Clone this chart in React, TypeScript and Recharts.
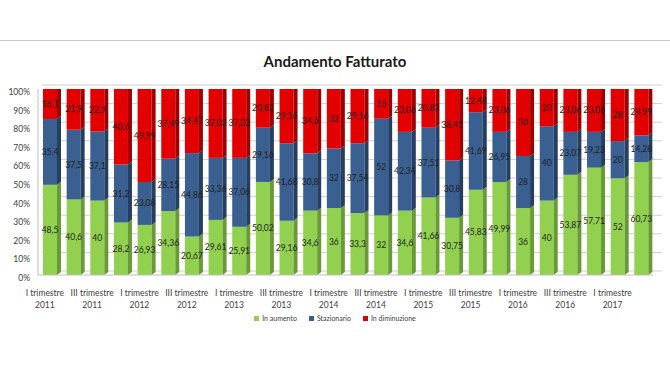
import React from 'react';
import { BarChart, Bar, XAxis, YAxis, CartesianGrid, LabelList, Legend, ReferenceLine } from 'recharts';

const categories = [
  'I trimestre 2011', 'II trimestre 2011', 'III trimestre 2011', 'IV trimestre 2011',
  'I trimestre 2012', 'II trimestre 2012', 'III trimestre 2012', 'IV trimestre 2012',
  'I trimestre 2013', 'II trimestre 2013', 'III trimestre 2013', 'IV trimestre 2013',
  'I trimestre 2014', 'II trimestre 2014', 'III trimestre 2014', 'IV trimestre 2014',
  'I trimestre 2015', 'II trimestre 2015', 'III trimestre 2015', 'IV trimestre 2015',
  'I trimestre 2016', 'II trimestre 2016', 'III trimestre 2016', 'IV trimestre 2016',
  'I trimestre 2017', 'II trimestre 2017',
];
const inAumento = [48.5, 40.6, 40, 28.2, 26.93, 34.36, 20.67, 29.61, 25.91, 50.02, 29.16, 34.6, 36, 33.3, 32, 34.6, 41.66, 30.75, 45.83, 49.99, 36, 40, 53.87, 57.71, 52, 60.73];
const stazionario = [35.4, 37.5, 37.1, 31.2, 23.08, 28.15, 44.86, 33.36, 37.06, 29.16, 41.68, 30.8, 32, 37.54, 52, 42.34, 37.51, 30.8, 41.69, 26.95, 28, 40, 23.07, 19.23, 20, 14.28];
const inDiminuzione = [16.1, 21.9, 22.9, 40.6, 49.99, 37.49, 34.47, 37.03, 37.03, 20.82, 29.16, 34.6, 32, 29.16, 16, 23.06, 20.83, 38.45, 12.48, 23.06, 36, 20, 23.06, 23.06, 28, 24.99];
const yTicks = [0, 10, 20, 30, 40, 50, 60, 70, 80, 90, 100];
const seriesNames = ['In aumento', 'Stazionario', 'In diminuzione'];

const data = categories.map((name, i) => ({
  name,
  a: inAumento[i],
  s: stazionario[i],
  d: inDiminuzione[i],
}));

const FONT = 'Lato, "Open Sans", sans-serif';
const D = 4;
const E = 3;

const make3D = (front: string, side: string, top?: string) => (props: any) => {
  const { x, y, width, height } = props;
  if (!height || height <= 0) return <g />;
  return (
    <g>
      <rect x={x} y={y} width={width} height={height} fill={front} />
      <polygon
        points={`${x + width},${y} ${x + width + D},${y - E} ${x + width + D},${y + height - E} ${x + width},${y + height}`}
        fill={side}
      />
      {top && (
        <polygon
          points={`${x},${y} ${x + D},${y - E} ${x + width + D},${y - E} ${x + width},${y}`}
          fill={top}
        />
      )}
    </g>
  );
};

const fmt = (v: any) => String(v).replace('.', ',');

const XTick = (props: any) => {
  const { x, y, payload } = props;
  const s: string = payload.value;
  const idx = s.lastIndexOf(' ');
  const l1 = s.slice(0, idx);
  const l2 = s.slice(idx + 1);
  return (
    <g transform={`translate(${x - 5},${y})`}>
      <text textAnchor="middle" fontSize={8.5} fill="#404040" fontFamily={FONT}>
        <tspan x={0} dy={13}>{l1}</tspan>
        <tspan x={0} dy={12}>{l2}</tspan>
      </text>
    </g>
  );
};

const YTick = (props: any) => {
  const { x, y, payload } = props;
  return (
    <text x={x} y={y + 3} dy="0.355em" textAnchor="end" fontSize={8.5} fill="#404040" fontFamily={FONT}>
      {payload.value}%
    </text>
  );
};

const GridLine = (props: any) => {
  const { x1, x2, y1 } = props;
  return <line x1={x1 + D} x2={x2 + 9} y1={y1 - 4} y2={y1 - 4} stroke="#cfcfcf" strokeWidth={1} />;
};

const LegendContent = (props: any) => {
  const payload = [...(props.payload || [])].sort(
    (p: any, q: any) => seriesNames.indexOf(p.value) - seriesNames.indexOf(q.value)
  );
  return (
    <div style={{ display: 'flex', justifyContent: 'center', gap: 12, fontSize: 7, fontFamily: FONT, color: '#404040', height: 12, alignItems: 'center' }}>
      {payload.map((p: any) => (
        <div key={p.value} style={{ display: 'flex', alignItems: 'center', gap: 3 }}>
          <span style={{ width: 5, height: 5, background: p.color, display: 'inline-block' }} />
          <span>{p.value}</span>
        </div>
      ))}
    </div>
  );
};

export default function App() {
  return (
    <div style={{ position: 'absolute', left: 0, top: 0, width: 670, height: 377, background: '#fff' }}>
      <div style={{ position: 'absolute', left: 0, top: 40, width: 670, height: 1, background: '#c8c8c8' }} />
      <div style={{ position: 'absolute', left: 0, top: 52, width: 670, textAlign: 'center', fontFamily: FONT, fontWeight: 700, fontSize: 15, color: '#1a1a1a' }}>
        Andamento Fatturato
      </div>
      <div style={{ position: 'absolute', left: 0, top: 0 }}>
        <BarChart width={670} height={377} data={data} margin={{ top: 89, right: 17, left: 0, bottom: 50 }}>
          <CartesianGrid vertical={false} horizontal={GridLine as any} />
          <XAxis
            dataKey="name"
            interval={1}
            tick={<XTick />}
            tickLine={false}
            axisLine={false}
            height={40}
          />
          <YAxis
            domain={[0, 100]}
            ticks={yTicks}
            interval={0}
            tick={<YTick />}
            tickLine={false}
            axisLine={{ stroke: '#bfbfbf' }}
            width={38}
            allowDataOverflow
          />
          <ReferenceLine y={0} stroke="#bfbfbf" />
          <Legend verticalAlign="bottom" content={<LegendContent />} wrapperStyle={{ top: 312, left: 0, width: 670 }} />
          <Bar dataKey="a" name={seriesNames[0]} stackId="x" fill="#92D050" barSize={14} isAnimationActive={false} shape={make3D('#92D050', '#6A9A35')}>
            <LabelList dataKey="a" position="center" formatter={fmt} fontSize={8.5} fill="#1f1f1f" fontFamily={FONT} />
          </Bar>
          <Bar dataKey="s" name={seriesNames[1]} stackId="x" fill="#376092" barSize={14} isAnimationActive={false} shape={make3D('#3A6091', '#243F60')}>
            <LabelList dataKey="s" position="center" formatter={fmt} fontSize={8.5} fill="#1f1f1f" fontFamily={FONT} />
          </Bar>
          <Bar dataKey="d" name={seriesNames[2]} stackId="x" fill="#E00000" barSize={14} isAnimationActive={false} shape={make3D('#E20000', '#A00000', '#B00000')}>
            <LabelList dataKey="d" position="center" formatter={fmt} fontSize={8.5} fill="#1f1f1f" fontFamily={FONT} />
          </Bar>
        </BarChart>
      </div>
    </div>
  );
}
